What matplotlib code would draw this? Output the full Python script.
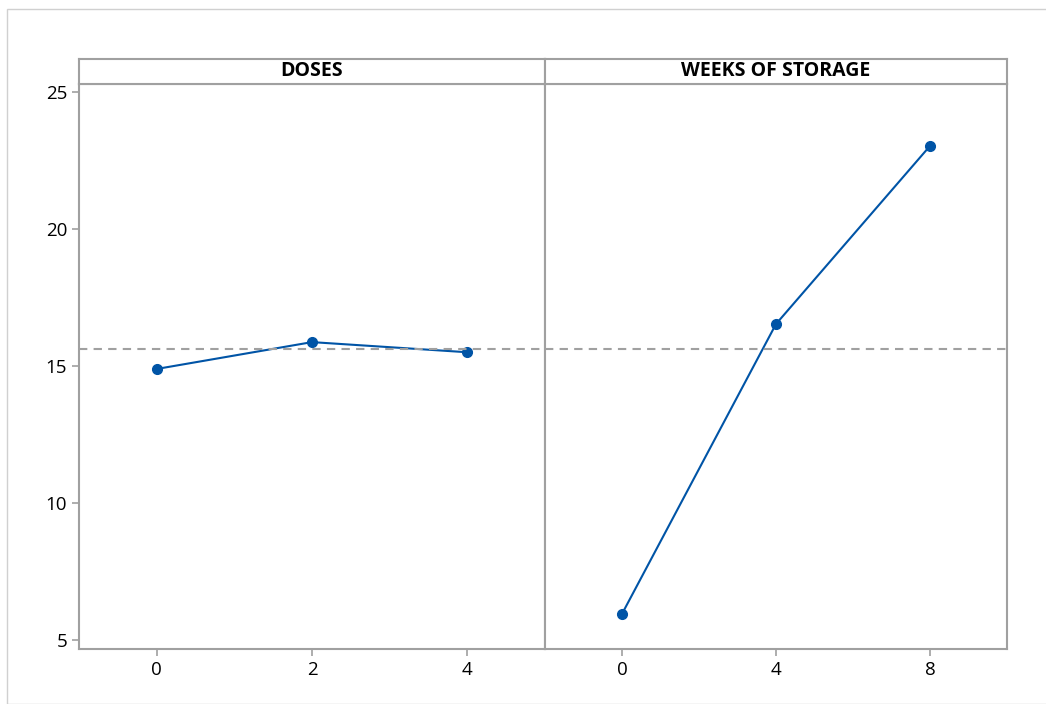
import matplotlib.pyplot as plt
from matplotlib.patches import Rectangle

plt.rcParams['font.family'] = ['Open Sans', 'DejaVu Sans']

doses = [0, 2, 4]
doses_means = [14.89, 15.87, 15.50]
weeks = [0, 4, 8]
weeks_means = [5.95, 16.53, 23.03]
grand_mean = 15.62
yticks = [5, 10, 15, 20, 25]

gray = '#a0a0a0'
blue = '#0054a6'

fig = plt.figure(figsize=(10.46, 7.04), dpi=100)
fig.patches.append(Rectangle((7/1046, 0), 1, 1 - 9/704, transform=fig.transFigure,
                             fill=False, edgecolor='#d0d0d0', linewidth=1))

L, R = 79/1046, 1007/1046
B, T = 1 - 649/704, 1 - 84/704
S = 1 - 59/704
mid = 545/1046

panels = [
    ("DOSES", doses, doses_means, (-1, 5), L, mid),
    ("WEEKS OF STORAGE", weeks, weeks_means, (-2, 10), mid, R),
]

for i, (title, xs, ys, xl, x0, x1) in enumerate(panels):
    ax = fig.add_axes([x0, B, x1 - x0, T - B])
    ax.plot(xs, ys, color=blue, linewidth=1.5, marker='o', markersize=7)
    ax.axhline(grand_mean, color=gray, linestyle=(0, (4, 3)), linewidth=1.5)
    ax.set_xlim(xl)
    ax.set_ylim(4.67, 25.29)
    ax.set_xticks(xs)
    ax.set_xticklabels([str(x) for x in xs])
    ax.set_yticks(yticks)
    for sp in ax.spines.values():
        sp.set_color(gray)
        sp.set_linewidth(1.5)
    ax.tick_params(axis='both', colors=gray, labelcolor='black', labelsize=13.5,
                   length=5, width=1.2)
    if i > 0:
        ax.tick_params(axis='y', left=False, labelleft=False)

    sax = fig.add_axes([x0, T, x1 - x0, S - T])
    sax.set_xticks([])
    sax.set_yticks([])
    for sp in sax.spines.values():
        sp.set_color(gray)
        sp.set_linewidth(1.5)
    sax.text(0.5, 0.5, title, ha='center', va='center', fontsize=14,
             fontweight='bold', transform=sax.transAxes)

plt.savefig("out.png", dpi=100)
